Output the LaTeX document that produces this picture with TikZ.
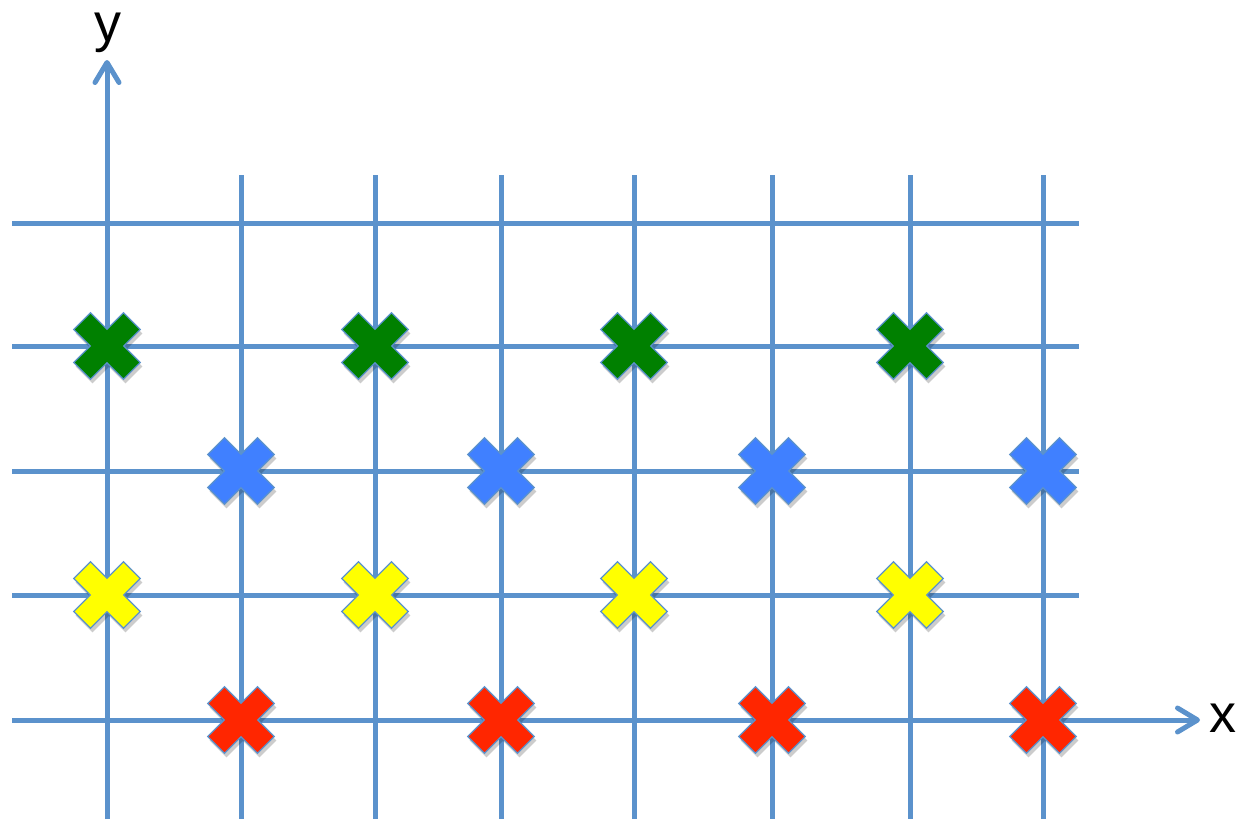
\documentclass[tikz,border=0pt]{standalone}
\usepackage{fontspec}
\setmainfont{Liberation Sans}
\usetikzlibrary{arrows.meta}
\definecolor{gridblue}{RGB}{91,146,204}
\definecolor{markgreen}{RGB}{0,128,0}
\definecolor{markblue}{RGB}{64,128,255}
\definecolor{markyellow}{RGB}{255,255,0}
\definecolor{markred}{RGB}{255,38,0}

\tikzset{
    gridline/.style={draw=gridblue, line width=2.5pt},
    axisline/.style={gridline, -{Straight Barb[length=10pt, width=12pt, line cap=round, line join=round]}},
    axislabel/.style={anchor=base, inner sep=0pt, font=\fontsize{27}{30}\selectfont},
    pics/xmark/.style={code={
        \fill[black, opacity=0.2] (2,4) ++(0,16.8) -- ++(16.5,16.5) -- ++(16.8,-16.8) -- ++(-16.5,-16.5)
            -- ++(16.5,-16.5) -- ++(-16.8,-16.8) -- ++(-16.5,16.5) -- ++(-16.5,-16.5) -- ++(-16.8,16.8)
            -- ++(16.5,16.5) -- ++(-16.5,16.5) -- ++(16.8,16.8) -- cycle;
        \filldraw[draw=gridblue, line width=0.6pt, fill=#1]
            (0,16.8) -- (16.5,33.3) -- (33.3,16.5) -- (16.8,0) -- (33.3,-16.5) -- (16.5,-33.3)
            -- (0,-16.8) -- (-16.5,-33.3) -- (-33.3,-16.5) -- (-16.8,0) -- (-33.3,16.5) -- (-16.5,33.3) -- cycle;
    }},
}

\begin{document}
\begin{tikzpicture}[x=0.5pt, y=-0.5pt, >=Stealth]
    \useasboundingbox (0,0) rectangle (1251,825);

    % grid
    \foreach \gx in {241,375,501,634,772,910,1043}
        \draw[gridline] (\gx,175) -- (\gx,819);
    \foreach \gy in {223,346,471,595}
        \draw[gridline] (12,\gy) -- (1079,\gy);

    % axes
    \coordinate (origin-y) at (107,819);
    \coordinate (ytip) at (107,60);
    \coordinate (origin-x) at (12,720);
    \coordinate (xtip) at (1200,720);
    \draw[axisline] (origin-y) -- (ytip);
    \draw[axisline] (origin-x) -- (xtip);
    \node[axislabel] (ylabel) at (108,41) {y};
    \node[axislabel] (xlabel) at (1223,732) {x};

    % marks
    \foreach \mx in {107,375,634,910} {
        \pic at (\mx,346) {xmark=markgreen};
        \pic at (\mx,595) {xmark=markyellow};
    }
    \foreach \mx in {241,501,772,1043} {
        \pic at (\mx,471) {xmark=markblue};
        \pic at (\mx,720) {xmark=markred};
    }
\end{tikzpicture}
\end{document}
